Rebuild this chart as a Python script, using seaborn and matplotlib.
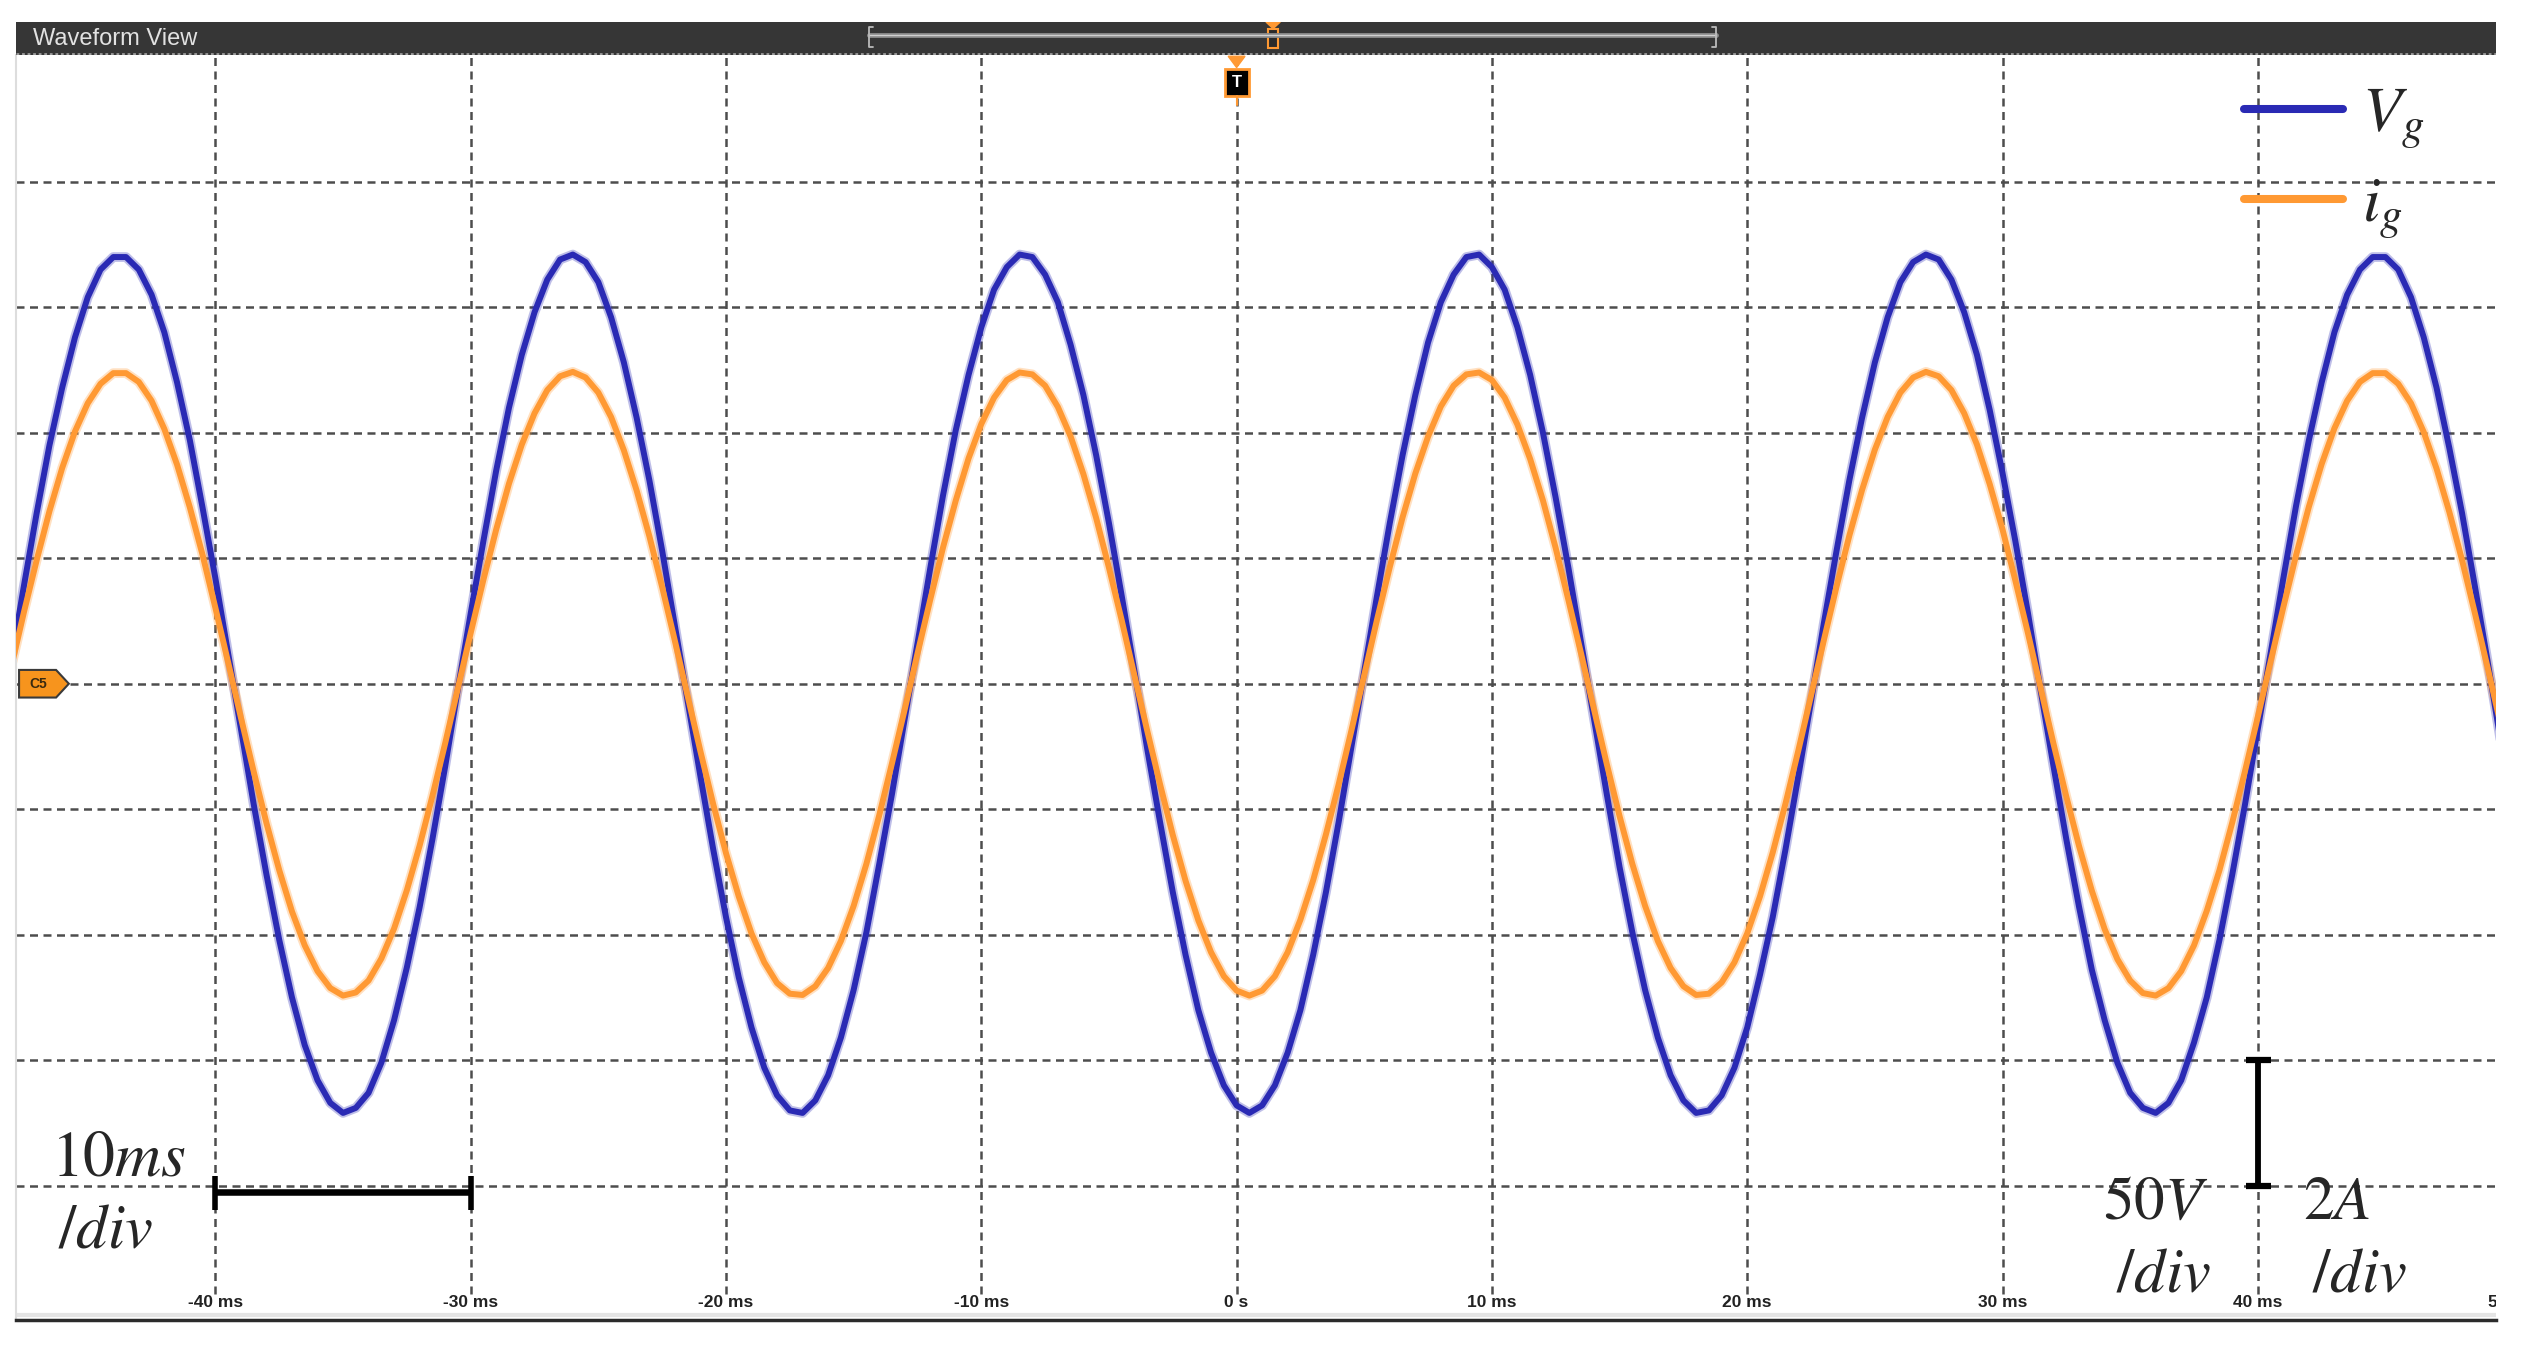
import numpy as np
import pandas as pd
import matplotlib
matplotlib.use('Agg')
import matplotlib.pyplot as plt
import seaborn as sns
from matplotlib.patches import Polygon, Rectangle

sns.set_style('white')
plt.rcParams['font.family'] = ['Liberation Sans', 'DejaVu Sans']
plt.rcParams['mathtext.fontset'] = 'stix'

# scope capture: one sample every 0.5 ms starting at -48 ms
t0_ms = -48.0
sample_ms = 0.5

# grid voltage (V)
vg_volts = [
    9, 39, 68, 95, 118, 138, 154, 165, 170, 170,
    165, 155, 140, 120, 97, 70, 42, 12, -18, -48,
    -76, -102, -125, -144, -158, -167, -171, -169, -163, -151,
    -134, -113, -89, -62, -33, -2, 28, 57, 85, 110,
    131, 148, 161, 169, 171, 168, 160, 146, 128, 106,
    81, 53, 23, -7, -37, -66, -93, -117, -137, -153,
    -164, -170, -171, -166, -156, -141, -122, -99, -72, -44,
    -14, 16, 46, 75, 101, 123, 142, 157, 166, 171,
    170, 163, 152, 135, 115, 91, 64, 35, 5, -26,
    -55, -83, -108, -130, -147, -160, -168, -171, -168, -160,
    -147, -130, -108, -83, -55, -25, 5, 35, 64, 91,
    115, 136, 152, 163, 170, 171, 166, 157, 142, 123,
    100, 74, 46, 16, -14, -44, -73, -99, -122, -141,
    -156, -166, -171, -170, -164, -153, -137, -116, -93, -66,
    -37, -7, 24, 53, 81, 106, 128, 146, 160, 168,
    171, 169, 161, 148, 131, 109, 84, 57, 28, -3,
    -33, -62, -89, -114, -134, -151, -163, -169, -171, -167,
    -158, -143, -125, -102, -76, -48, -18, 12, 42, 71,
    97, 120, 140, 155, 165, 170, 170, 165, 154, 138,
    118, 94, 68, 39, 9, -22,
]

# grid current (A)
ig_amps = [
    0.26, 1.14, 1.97, 2.75, 3.44, 4.02, 4.47, 4.78, 4.95, 4.95,
    4.81, 4.51, 4.06, 3.49, 2.81, 2.05, 1.21, 0.34, -0.54, -1.40,
    -2.22, -2.97, -3.63, -4.17, -4.58, -4.85, -4.97, -4.92, -4.73, -4.38,
    -3.90, -3.29, -2.58, -1.79, -0.95, -0.07, 0.81, 1.66, 2.46, 3.19,
    3.81, 4.31, 4.68, 4.90, 4.97, 4.88, 4.64, 4.25, 3.72, 3.08,
    2.35, 1.54, 0.68, -0.20, -1.08, -1.92, -2.70, -3.39, -3.98, -4.44,
    -4.77, -4.94, -4.96, -4.82, -4.53, -4.10, -3.54, -2.87, -2.10, -1.27,
    -0.41, 0.48, 1.34, 2.17, 2.92, 3.59, 4.14, 4.56, 4.84, 4.96,
    4.93, 4.75, 4.41, 3.94, 3.34, 2.64, 1.85, 1.01, 0.13, -0.75,
    -1.60, -2.41, -3.14, -3.77, -4.28, -4.66, -4.89, -4.97, -4.89, -4.66,
    -4.28, -3.76, -3.13, -2.40, -1.60, -0.74, 0.14, 1.02, 1.86, 2.65,
    3.35, 3.94, 4.42, 4.75, 4.93, 4.96, 4.84, 4.56, 4.13, 3.58,
    2.92, 2.16, 1.33, 0.47, -0.41, -1.28, -2.11, -2.87, -3.54, -4.10,
    -4.53, -4.82, -4.96, -4.94, -4.76, -4.44, -3.98, -3.39, -2.69, -1.91,
    -1.07, -0.19, 0.69, 1.55, 2.36, 3.09, 3.73, 4.25, 4.64, 4.88,
    4.97, 4.90, 4.68, 4.31, 3.81, 3.18, 2.46, 1.65, 0.80, -0.08,
    -0.96, -1.80, -2.59, -3.30, -3.91, -4.39, -4.73, -4.93, -4.97, -4.85,
    -4.58, -4.17, -3.62, -2.97, -2.21, -1.39, -0.53, 0.35, 1.22, 2.05,
    2.82, 3.50, 4.07, 4.51, 4.81, 4.95, 4.95, 4.78, 4.47, 4.01,
    3.43, 2.74, 1.97, 1.13, 0.26, -0.63,
]

volts_per_div = 50
amps_per_div = 2

tick_ms = [-40, -30, -20, -10, 0, 10, 20, 30, 40, 50]
tick_labels = ['-40 ms', '-30 ms', '-20 ms', '-10 ms', '0 s', '10 ms', '20 ms', '30 ms', '40 ms', '50 ms']
grid_divs = [-4, -3, -2, -1, 0, 1, 2, 3, 4]

blue = '#2a2ab4'
orange = '#ff9933'

t_ms = t0_ms + sample_ms * np.arange(len(vg_volts))
df = pd.concat([
    pd.DataFrame({'t': t_ms, 'div': np.array(vg_volts) / volts_per_div, 'signal': r'$V_g$'}),
    pd.DataFrame({'t': t_ms, 'div': np.array(ig_amps) / amps_per_div, 'signal': r'$i_g$'}),
], ignore_index=True)

W, H = 2524, 1350
fig = plt.figure(figsize=(W / 100, H / 100), dpi=100)
ax = fig.add_axes([16 / W, 30 / H, 2480 / W, 1265 / H])

pal = {r'$V_g$': blue, r'$i_g$': orange}
order = [r'$V_g$', r'$i_g$']
# soft halo mimics the noisy trace band
sns.lineplot(data=df, x='t', y='div', hue='signal', hue_order=order, palette=pal,
             linewidth=7, alpha=0.3, estimator=None, legend=False, ax=ax, zorder=2)
sns.lineplot(data=df, x='t', y='div', hue='signal', hue_order=order, palette=pal,
             linewidth=4.3, estimator=None, ax=ax, zorder=3)

ax.set_xlim(-47.81, 49.33)
ax.set_ylim(-5.07, 5.01)
ax.set_xlabel('')
ax.set_ylabel('')
ax.set_xticks([])
ax.set_yticks([])

# grid
for g in grid_divs:
    ax.axhline(g, color='#4d4d4d', lw=1.8, dashes=(3.2, 2.2), zorder=1)
ax.vlines(tick_ms, -4.86, 5.01, colors='#4d4d4d', lw=1.8, linestyles=(0, (3.2, 2.2)), zorder=1)

for t, lab in zip(tick_ms, tick_labels):
    ax.text(t, -4.93, lab, ha='center', va='center', fontsize=12.5, fontweight='bold',
            color='#222222', clip_on=True)

for s in ['top', 'right']:
    ax.spines[s].set_visible(False)
ax.spines['left'].set_color('#dddddd')
ax.spines['left'].set_linewidth(1.5)
ax.spines['bottom'].set_color('#2b2b2b')
ax.spines['bottom'].set_linewidth(2.5)
ax.axhline(-5.03, color='#e4e4e4', lw=3, zorder=1)

# legend
leg = ax.legend(loc='upper right', bbox_to_anchor=(2450 / W, 1 - 59 / H),
                bbox_transform=fig.transFigure, frameon=False, fontsize=46,
                handlelength=1.55, handletextpad=0.3, labelspacing=0.37, borderaxespad=0)
for ln in leg.get_lines():
    ln.set_linewidth(5.8)

# scale bars
ax.plot([-40, -30], [-4.05, -4.05], color='k', lw=4.7, solid_capstyle='butt', zorder=4)
ax.vlines([-40, -30], -4.19, -3.92, colors='k', lw=4, zorder=4)
ax.plot([40, 40], [-3, -4], color='k', lw=4.2, solid_capstyle='butt', zorder=4)
ax.hlines([-3, -4], 39.55, 40.5, colors='k', lw=4.5, zorder=4)

ax.text(-43.8, -3.78, r'$10ms$', fontsize=46, ha='center', va='center', zorder=5)
ax.text(-44.3, -4.36, r'$/div$', fontsize=45, ha='center', va='center', zorder=5)
ax.text(36.0, -4.14, r'$50V$', fontsize=44, ha='center', va='center', zorder=5)
ax.text(36.3, -4.71, r'$/div$', fontsize=45, ha='center', va='center', zorder=5)
ax.text(43.1, -4.14, r'$2A$', fontsize=44, ha='center', va='center', zorder=5)
ax.text(44.0, -4.71, r'$/div$', fontsize=45, ha='center', va='center', zorder=5)

# trigger marker at 0 s
ax.add_patch(Polygon([[-0.33, 5.0], [0.33, 5.0], [0, 4.91]], closed=True, color=orange, zorder=6))
ax.add_patch(Rectangle((-0.45, 4.68), 0.92, 0.22, facecolor='black', edgecolor=orange, lw=2, zorder=6))
ax.text(0.01, 4.79, 'T', color='white', fontsize=12, fontweight='bold', ha='center', va='center', zorder=7)
ax.plot([0, 0], [4.68, 4.61], color=orange, lw=1.5, zorder=6)

# channel marker
ax.add_patch(Polygon([[-47.69, 0.11], [-46.24, 0.11], [-45.74, 0], [-46.24, -0.11], [-47.69, -0.11]],
                     closed=True, facecolor='#f7941d', edgecolor='#3a3a3a', lw=1.5, zorder=6))
ax.text(-46.95, 0, 'C5', fontsize=10, fontweight='bold', color='#3a2a10', ha='center', va='center', zorder=7)

# title bar
bar = fig.add_axes([16 / W, (H - 55) / H, 2480 / W, 33 / H])
bar.set_facecolor('#363636')
bar.set_xlim(-47.81, 49.33)
bar.set_ylim(0, 1)
bar.set_xticks([])
bar.set_yticks([])
for s in bar.spines.values():
    s.set_visible(False)
bar.text(-47.14, 0.48, 'Waveform View', color='#e2e2e2', fontsize=17, va='center', ha='left')
bar.plot([-14.4, 18.78], [0.6, 0.6], color='#8a8a8a', lw=3.5)
bar.plot([-14.4, 18.78], [0.6, 0.6], color='#d0d0d0', lw=1)
bar.plot([-14.25, -14.4, -14.4, -14.25], [0.85, 0.85, 0.25, 0.25], color='#bbbbbb', lw=1.3)
bar.plot([18.63, 18.78, 18.78, 18.63], [0.85, 0.85, 0.25, 0.25], color='#bbbbbb', lw=1.3)
bar.add_patch(Polygon([[1.15, 1.0], [1.71, 1.0], [1.43, 0.8]], closed=True, color=orange))
bar.add_patch(Rectangle((1.22, 0.22), 0.42, 0.56, facecolor='#2a2a2a', edgecolor=orange, lw=1.5))
bar.axhline(0.03, color='#9a9a9a', lw=2, dashes=(1, 1))

fig.savefig('out.png', dpi=100)
